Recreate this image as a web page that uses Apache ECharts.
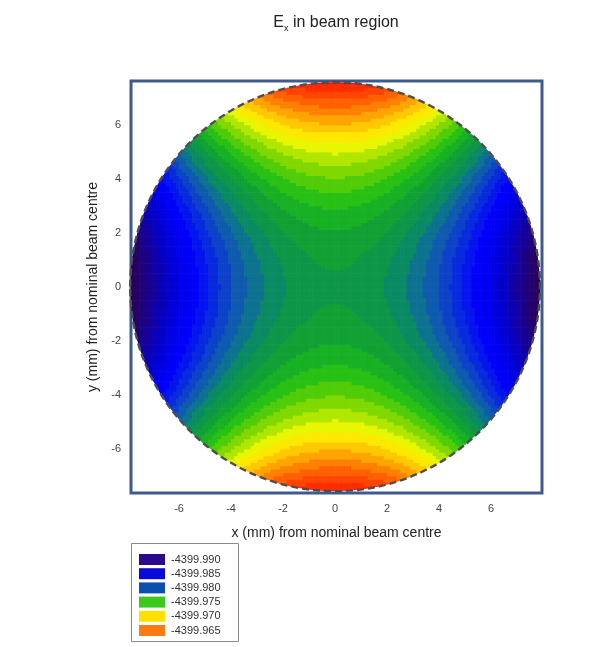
<!DOCTYPE html>
<html>
<head>
<meta charset="utf-8">
<script src="https://cdn.jsdelivr.net/npm/echarts@6/dist/echarts.min.js"></script>
<style>html,body{margin:0;padding:0;background:#fff;}#chart{width:590px;height:647px;}</style>
</head>
<body>
<div id="chart"></div>
<script>
// ---------- data ----------
// sample positions (mm) of the field grid
const sampleX = [-7.9375,-7.8125,-7.6875,-7.5625,-7.4375,-7.3125,-7.1875,-7.0625,-6.9375,-6.8125,-6.6875,-6.5625,-6.4375,-6.3125,-6.1875,-6.0625,
  -5.9375,-5.8125,-5.6875,-5.5625,-5.4375,-5.3125,-5.1875,-5.0625,-4.9375,-4.8125,-4.6875,-4.5625,-4.4375,-4.3125,-4.1875,-4.0625,
  -3.9375,-3.8125,-3.6875,-3.5625,-3.4375,-3.3125,-3.1875,-3.0625,-2.9375,-2.8125,-2.6875,-2.5625,-2.4375,-2.3125,-2.1875,-2.0625,
  -1.9375,-1.8125,-1.6875,-1.5625,-1.4375,-1.3125,-1.1875,-1.0625,-0.9375,-0.8125,-0.6875,-0.5625,-0.4375,-0.3125,-0.1875,-0.0625,
  0.0625,0.1875,0.3125,0.4375,0.5625,0.6875,0.8125,0.9375,1.0625,1.1875,1.3125,1.4375,1.5625,1.6875,1.8125,1.9375,
  2.0625,2.1875,2.3125,2.4375,2.5625,2.6875,2.8125,2.9375,3.0625,3.1875,3.3125,3.4375,3.5625,3.6875,3.8125,3.9375,
  4.0625,4.1875,4.3125,4.4375,4.5625,4.6875,4.8125,4.9375,5.0625,5.1875,5.3125,5.4375,5.5625,5.6875,5.8125,5.9375,
  6.0625,6.1875,6.3125,6.4375,6.5625,6.6875,6.8125,6.9375,7.0625,7.1875,7.3125,7.4375,7.5625,7.6875,7.8125,7.9375];
const sampleY = [-7.5625,-7.4375,-7.3125,-7.1875,-7.0625,-6.9375,-6.8125,-6.6875,-6.5625,-6.4375,-6.3125,-6.1875,-6.0625,
  -5.9375,-5.8125,-5.6875,-5.5625,-5.4375,-5.3125,-5.1875,-5.0625,-4.9375,-4.8125,-4.6875,-4.5625,-4.4375,-4.3125,-4.1875,-4.0625,
  -3.9375,-3.8125,-3.6875,-3.5625,-3.4375,-3.3125,-3.1875,-3.0625,-2.9375,-2.8125,-2.6875,-2.5625,-2.4375,-2.3125,-2.1875,-2.0625,
  -1.9375,-1.8125,-1.6875,-1.5625,-1.4375,-1.3125,-1.1875,-1.0625,-0.9375,-0.8125,-0.6875,-0.5625,-0.4375,-0.3125,-0.1875,-0.0625,
  0.0625,0.1875,0.3125,0.4375,0.5625,0.6875,0.8125,0.9375,1.0625,1.1875,1.3125,1.4375,1.5625,1.6875,1.8125,1.9375,
  2.0625,2.1875,2.3125,2.4375,2.5625,2.6875,2.8125,2.9375,3.0625,3.1875,3.3125,3.4375,3.5625,3.6875,3.8125,3.9375,
  4.0625,4.1875,4.3125,4.4375,4.5625,4.6875,4.8125,4.9375,5.0625,5.1875,5.3125,5.4375,5.5625,5.6875,5.8125,5.9375,
  6.0625,6.1875,6.3125,6.4375,6.5625,6.6875,6.8125,6.9375,7.0625,7.1875,7.3125,7.4375,7.5625];
// Ex (V/m) along the line y = 0, at sampleX
const exAlongX = [-4399.99334,-4399.99285,-4399.99236,-4399.99189,-4399.99142,-4399.99096,-4399.99051,-4399.99006,
  -4399.98962,-4399.98919,-4399.98877,-4399.98836,-4399.98795,-4399.98755,-4399.98716,-4399.98678,
  -4399.98640,-4399.98604,-4399.98568,-4399.98533,-4399.98498,-4399.98465,-4399.98432,-4399.98400,
  -4399.98368,-4399.98338,-4399.98308,-4399.98279,-4399.98251,-4399.98224,-4399.98197,-4399.98172,
  -4399.98147,-4399.98122,-4399.98099,-4399.98076,-4399.98054,-4399.98033,-4399.98013,-4399.97993,
  -4399.97975,-4399.97957,-4399.97940,-4399.97923,-4399.97908,-4399.97893,-4399.97879,-4399.97865,
  -4399.97853,-4399.97841,-4399.97830,-4399.97820,-4399.97811,-4399.97802,-4399.97794,-4399.97787,
  -4399.97781,-4399.97776,-4399.97771,-4399.97767,-4399.97764,-4399.97761,-4399.97760,-4399.97759,
  -4399.97759,-4399.97760,-4399.97761,-4399.97764,-4399.97767,-4399.97771,-4399.97776,-4399.97781,
  -4399.97787,-4399.97794,-4399.97802,-4399.97811,-4399.97820,-4399.97830,-4399.97841,-4399.97853,
  -4399.97865,-4399.97879,-4399.97893,-4399.97908,-4399.97923,-4399.97940,-4399.97957,-4399.97975,
  -4399.97993,-4399.98013,-4399.98033,-4399.98054,-4399.98076,-4399.98099,-4399.98122,-4399.98147,
  -4399.98172,-4399.98197,-4399.98224,-4399.98251,-4399.98279,-4399.98308,-4399.98338,-4399.98368,
  -4399.98400,-4399.98432,-4399.98465,-4399.98498,-4399.98533,-4399.98568,-4399.98604,-4399.98640,
  -4399.98678,-4399.98716,-4399.98755,-4399.98795,-4399.98836,-4399.98877,-4399.98919,-4399.98962,
  -4399.99006,-4399.99051,-4399.99096,-4399.99142,-4399.99189,-4399.99236,-4399.99285,-4399.99334];
// Ex (V/m) along the line x = 0, at sampleY
const exAlongY = [-4399.96329,-4399.96376,-4399.96422,-4399.96467,-4399.96512,-4399.96556,-4399.96599,-4399.96641,
  -4399.96682,-4399.96723,-4399.96763,-4399.96802,-4399.96840,-4399.96878,-4399.96914,-4399.96950,
  -4399.96985,-4399.97020,-4399.97053,-4399.97086,-4399.97118,-4399.97150,-4399.97180,-4399.97210,
  -4399.97239,-4399.97267,-4399.97294,-4399.97321,-4399.97346,-4399.97371,-4399.97396,-4399.97419,
  -4399.97442,-4399.97464,-4399.97485,-4399.97505,-4399.97525,-4399.97543,-4399.97561,-4399.97578,
  -4399.97595,-4399.97610,-4399.97625,-4399.97639,-4399.97653,-4399.97665,-4399.97677,-4399.97688,
  -4399.97698,-4399.97707,-4399.97716,-4399.97724,-4399.97731,-4399.97737,-4399.97742,-4399.97747,
  -4399.97751,-4399.97754,-4399.97757,-4399.97758,-4399.97759,
  -4399.97759,-4399.97758,-4399.97757,-4399.97754,-4399.97751,-4399.97747,-4399.97742,-4399.97737,
  -4399.97731,-4399.97724,-4399.97716,-4399.97707,-4399.97698,-4399.97688,-4399.97677,-4399.97665,
  -4399.97653,-4399.97639,-4399.97625,-4399.97610,-4399.97595,-4399.97578,-4399.97561,-4399.97543,
  -4399.97525,-4399.97505,-4399.97485,-4399.97464,-4399.97442,-4399.97419,-4399.97396,-4399.97371,
  -4399.97346,-4399.97321,-4399.97294,-4399.97267,-4399.97239,-4399.97210,-4399.97180,-4399.97150,
  -4399.97118,-4399.97086,-4399.97053,-4399.97020,-4399.96985,-4399.96950,-4399.96914,-4399.96878,
  -4399.96840,-4399.96802,-4399.96763,-4399.96723,-4399.96682,-4399.96641,-4399.96599,-4399.96556,
  -4399.96512,-4399.96467,-4399.96422,-4399.96376,-4399.96329];
const exCentre = -4399.97759;
// contour levels of the filled plot
const contourEdges = [-4399.9925,-4399.9915,-4399.9905,-4399.9895,-4399.9885,-4399.9875,-4399.9865,-4399.9855,-4399.9845,
  -4399.9835,-4399.9825,-4399.9815,-4399.9805,-4399.9795,-4399.9785,-4399.9775,-4399.9765,-4399.9755,
  -4399.9745,-4399.9735,-4399.9725,-4399.9715,-4399.9705,-4399.9695,-4399.9685,-4399.9675,-4399.9665,
  -4399.9655,-4399.9645,-4399.9635];
const legendValues = [-4399.990,-4399.985,-4399.980,-4399.975,-4399.970,-4399.965];
const tickValues = [-6,-4,-2,0,2,4,6];

// ---------- styles ----------
const bandColors = ['#2c0054','#260066','#1e007c','#160096','#0c00b0','#0400c8','#0000de','#0000f0','#0000fa',
  '#0414ee','#082ade','#0c42c8','#0e5aae','#0c7290','#0a8a62','#0e9648',
  '#10a034','#18b024','#28c014','#50cc08','#80d800','#b0e600','#e8f600','#ffe800','#ffc800','#ffa400',
  '#ff8000','#ff6000','#ff4400','#ff2c00','#ff1800'];
const legendColors = ['#2a0a8a','#0a0ad8','#0a50b0','#3cc81e','#ffe000','#ff7a10'];
const FONT = '"Liberation Sans", Arial, Helvetica, sans-serif';
const CELL_W = 0.125, CELL_H = 0.125;
const BEAM_RX = 7.88, BEAM_RY = 7.57;

// ---------- build table ----------
function inside(x, y) { return (x / BEAM_RX) ** 2 + (y / BEAM_RY) ** 2 <= 1; }
const cells = [];
for (let j = 0; j < sampleY.length; j++) {
  for (let i = 0; i < sampleX.length; i++) {
    const x = sampleX[i], y = sampleY[j];
    const corners = [[x - CELL_W/2, y - CELL_H/2],[x + CELL_W/2, y - CELL_H/2],[x - CELL_W/2, y + CELL_H/2],[x + CELL_W/2, y + CELL_H/2]];
    const nIn = corners.filter(c => inside(c[0], c[1])).length;
    if (nIn === 0) continue;
    cells.push([x, y, exAlongX[i] + exAlongY[j] - exCentre, nIn < 4 ? 1 : 0]);
  }
}
const pieces = [];
pieces.push({ lt: contourEdges[0], color: bandColors[0] });
for (let k = 1; k < contourEdges.length; k++) pieces.push({ gte: contourEdges[k-1], lt: contourEdges[k], color: bandColors[k] });
pieces.push({ gte: contourEdges[contourEdges.length-1], color: bandColors[contourEdges.length] });

const chart = echarts.init(document.getElementById('chart'), null, { renderer: 'canvas' });

function renderCell(params, api) {
  const x = api.value(0), y = api.value(1);
  const tl = api.coord([x - CELL_W/2, y + CELL_H/2]);
  const br = api.coord([x + CELL_W/2, y - CELL_H/2]);
  const el = {
    type: 'rect',
    shape: { x: tl[0], y: tl[1], width: br[0] - tl[0] + 0.6, height: br[1] - tl[1] + 0.6 },
    style: { fill: api.visual('color') }
  };
  if (api.value(3) === 1) {
    const c = api.coord([0, 0]);
    const s = api.size([BEAM_RX, BEAM_RY]);
    el.clipPath = { type: 'ellipse', shape: { cx: c[0], cy: c[1], rx: s[0], ry: s[1] } };
  }
  return el;
}
function renderRim(params, api) {
  const c = api.coord([0, 0]);
  const s = api.size([BEAM_RX, BEAM_RY]);
  return { type: 'ellipse', shape: { cx: c[0], cy: c[1], rx: s[0], ry: s[1] },
    style: { fill: 'none', stroke: '#4e4e4e', lineWidth: 2.4, lineDash: [7, 4] } };
}

const legendGraphics = [{ type: 'rect', x: 131.5, y: 543.5, shape: { width: 107, height: 98 },
  style: { fill: '#fff', stroke: '#8a8a8a', lineWidth: 1 }, silent: true }];
legendValues.forEach((v, k) => {
  legendGraphics.push({ type: 'rect', x: 139, y: 554 + k * 14.2, shape: { width: 26, height: 11 }, style: { fill: legendColors[k] } });
  legendGraphics.push({ type: 'text', x: 171, y: 559.5 + k * 14.2,
    style: { text: v.toFixed(3), font: '11px ' + FONT, fill: '#333', verticalAlign: 'middle', align: 'left' } });
});

chart.setOption({
  animation: false,
  backgroundColor: '#fff',
  graphic: [
    { type: 'text', x: 336, y: 23, style: {
      text: '{e|E}{s|x}{t| in beam region}', align: 'center', verticalAlign: 'middle',
      rich: {
        e: { fontSize: 16, fontFamily: FONT, fill: '#222' },
        s: { fontSize: 9, fontFamily: FONT, fill: '#222', padding: [11, 0, 0, 0] },
        t: { fontSize: 16, fontFamily: FONT, fill: '#222' }
      } } }
  ].concat(legendGraphics),
  grid: { left: 131, top: 81, width: 411, height: 412, show: true, borderColor: '#3f5b8e', borderWidth: 3, backgroundColor: '#fff' },
  xAxis: {
    type: 'value', min: -7.85, max: 7.96,
    axisLine: { show: false }, splitLine: { show: false },
    axisTick: { show: true, customValues: tickValues, length: 5, lineStyle: { color: '#444' } },
    axisLabel: { customValues: tickValues, fontSize: 11, color: '#444', margin: 10, fontFamily: FONT },
    name: 'x (mm) from nominal beam centre', nameLocation: 'middle', nameGap: 33,
    nameTextStyle: { fontSize: 14, color: '#222', fontFamily: FONT }
  },
  yAxis: {
    type: 'value', min: -7.64, max: 7.62,
    axisLine: { show: false }, splitLine: { show: false },
    axisTick: { show: true, customValues: tickValues, length: 5, lineStyle: { color: '#444' } },
    axisLabel: { customValues: tickValues, fontSize: 11, color: '#444', margin: 10, fontFamily: FONT },
    name: 'y (mm) from nominal beam centre', nameLocation: 'middle', nameGap: 29,
    nameTextStyle: { fontSize: 14, color: '#222', fontFamily: FONT }
  },
  visualMap: { type: 'piecewise', show: false, seriesIndex: 0, dimension: 2, pieces: pieces },
  series: [
    { type: 'custom', coordinateSystem: 'cartesian2d', renderItem: renderCell, data: cells,
      encode: { x: 0, y: 1 }, silent: true, clip: true, z: 2, progressive: 0 },
    { type: 'custom', coordinateSystem: 'cartesian2d', renderItem: renderRim, data: [[0, 0]],
      encode: { x: 0, y: 1 }, silent: true, z: 3 }
  ]
});
</script>
</body>
</html>
